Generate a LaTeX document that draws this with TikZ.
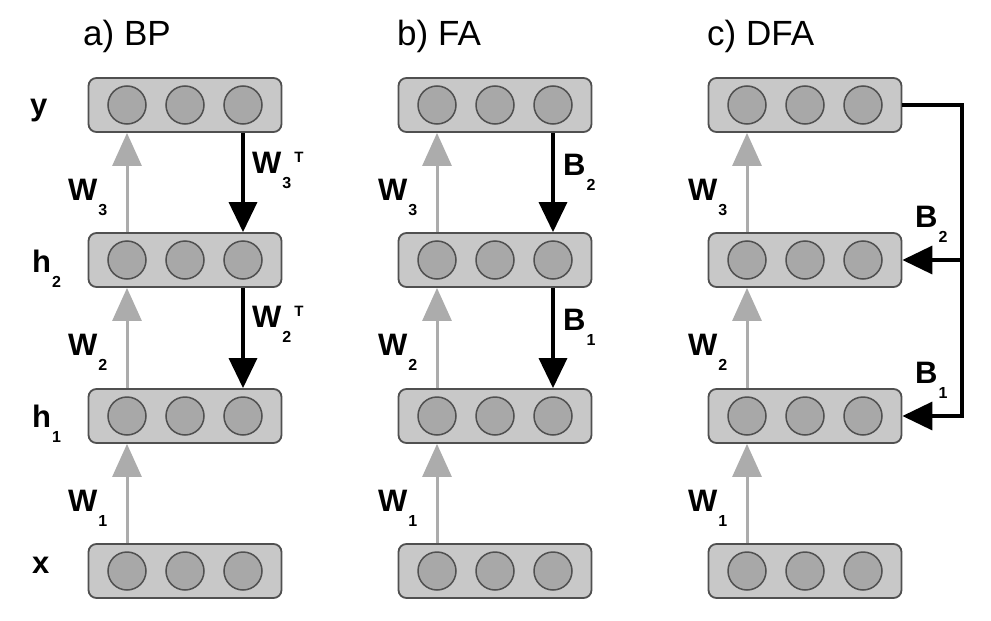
\documentclass[tikz,border=0pt]{standalone}
\usepackage{fontspec}
\setmainfont{Liberation Sans}
\usetikzlibrary{arrows.meta}
\definecolor{boxgray}{RGB}{200,200,200}
\definecolor{unitgray}{RGB}{168,168,168}
\definecolor{edgegray}{RGB}{80,80,80}
\definecolor{fwdgray}{RGB}{172,172,172}

\tikzset{
	layer/.style={draw=edgegray, fill=boxgray, line width=1.8pt, rounded corners=8pt,
		minimum width=193pt, minimum height=54pt, inner sep=0pt},
	unit/.style={circle, draw=edgegray, fill=unitgray, line width=1.5pt,
		minimum size=38pt, inner sep=0pt},
	fwd/.style={draw=fwdgray, line width=3pt, -{Triangle[width=29pt,length=33pt]}},
	fb/.style={draw=black, line width=3.5pt, -{Triangle[width=28pt,length=30pt]}},
	title/.style={anchor=base west, inner sep=0pt, font=\fontsize{35}{40}\selectfont},
	lbl/.style={anchor=base west, inner sep=0pt, font=\fontsize{31}{36}\selectfont\bfseries}
}

% one layer: box with three units
\newcommand{\Layer}[3]{%
	\node[layer] (#1) at (#2,#3) {};
	\node[unit] (#1-1) at ([xshift=-58pt]#1.center) {};
	\node[unit] (#1-2) at (#1.center) {};
	\node[unit] (#1-3) at ([xshift=58pt]#1.center) {};
}
\newcommand{\lsub}[1]{\hspace{1pt}\raisebox{-15pt}{\fontsize{16}{16}\selectfont #1}}
\newcommand{\lsup}[1]{\hspace{3pt}\raisebox{11pt}{\fontsize{15}{15}\selectfont #1}}

\begin{document}
\begin{tikzpicture}[x=1pt,y=-1pt]
	\useasboundingbox (0,0) rectangle (991,621);
	
	% titles
	\node[title] (ta) at (83,45) {a) BP};
	\node[title] (tb) at (397,45) {b) FA};
	\node[title] (tc) at (707,45) {c) DFA};
	
	% layers
	\Layer{a-y}{185}{105}
	\Layer{a-h2}{185}{260}
	\Layer{a-h1}{185}{416}
	\Layer{a-x}{185}{571}
	
	\Layer{b-y}{495}{105}
	\Layer{b-h2}{495}{260}
	\Layer{b-h1}{495}{416}
	\Layer{b-x}{495}{571}
	
	\Layer{c-y}{805}{105}
	\Layer{c-h2}{805}{260}
	\Layer{c-h1}{805}{416}
	\Layer{c-x}{805}{571}
	
	% layer names
	\node[lbl] (ly) at (30,115) {y};
	\node[lbl] (lh2) at (32,272) {h\lsub{2}};
	\node[lbl] (lh1) at (32,427) {h\lsub{1}};
	\node[lbl] (lx) at (32,573) {x};
	
	% forward weights
	\foreach \p/\ox in {a/0,b/310,c/620}{
		\draw[fwd] (\p-x.north -| \p-x-1) -- (\p-h1.south -| \p-h1-1);
		\draw[fwd] (\p-h1.north -| \p-h1-1) -- (\p-h2.south -| \p-h2-1);
		\draw[fwd] (\p-h2.north -| \p-h2-1) -- (\p-y.south -| \p-y-1);
		\node[lbl] (\p-w1) at (68+\ox,511) {W\lsub{1}};
		\node[lbl] (\p-w2) at (68+\ox,355) {W\lsub{2}};
		\node[lbl] (\p-w3) at (68+\ox,200) {W\lsub{3}};
	}
	
	% a) backprop
	\draw[fb] (a-y.south -| a-y-3) -- (a-h2.north -| a-h2-3);
	\draw[fb] (a-h2.south -| a-h2-3) -- (a-h1.north -| a-h1-3);
	\node[lbl] (a-w3t) at (252,173) {W\lsub{3}\lsup{T}};
	\node[lbl] (a-w2t) at (252,327) {W\lsub{2}\lsup{T}};
	
	% b) feedback alignment
	\draw[fb] (b-y.south -| b-y-3) -- (b-h2.north -| b-h2-3);
	\draw[fb] (b-h2.south -| b-h2-3) -- (b-h1.north -| b-h1-3);
	\node[lbl] (b-b2) at (563,175) {B\lsub{2}};
	\node[lbl] (b-b1) at (563,330) {B\lsub{1}};
	
	% c) direct feedback alignment
	\coordinate (c-rail) at (962,105);
	\draw[fb] (c-y.east) -- (c-rail) |- (c-h1.east);
	\draw[fb] (c-rail |- c-h2.east) -- (c-h2.east);
	\node[lbl] (c-b2) at (915,227) {B\lsub{2}};
	\node[lbl] (c-b1) at (915,383) {B\lsub{1}};
	
\end{tikzpicture}
\end{document}
